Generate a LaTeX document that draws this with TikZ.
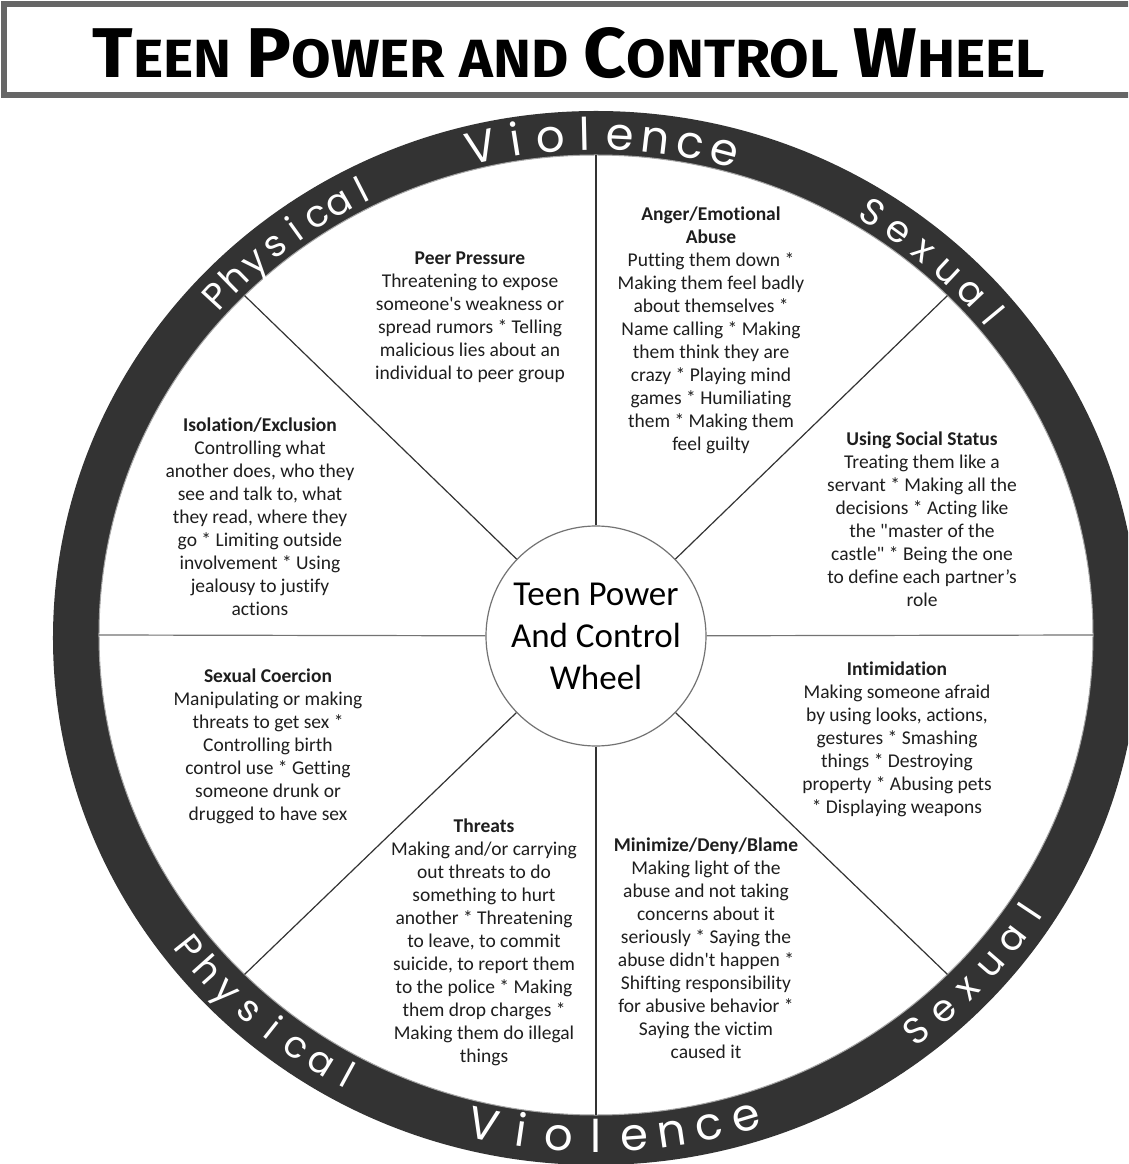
\documentclass[tikz,border=0pt]{standalone}
\usepackage{fontspec}
\newfontfamily\wheelfont{Carlito}[Ligatures={NoCommon}]
\newfontfamily\titlefont{Fira Sans}
\newfontfamily\ringfont{Poppins}
\definecolor{ringgray}{HTML}{333333}
\definecolor{inkgray}{HTML}{1E1E1E}
\definecolor{boxgray}{HTML}{666666}
\newcommand\capword[2]{{\fontsize{72}{72}\selectfont #1}{\fontsize{55}{55}\selectfont #2}}

\tikzset{
  spoke/.style={black!80, line width=1.2pt},
  hub/.style={circle, draw=black!55, line width=1.2pt, fill=white, minimum size=220pt,
    inner sep=0pt, align=center, font=\wheelfont\fontsize{35}{42}\selectfont},
  tactic/.style={align=center, text=inkgray, inner sep=0pt,
    font=\wheelfont\fontsize{19.5}{23}\selectfont},
  ringletter/.style={white, anchor=base, inner sep=0pt,
    font=\ringfont\fontsize{#1}{#1}\selectfont},
}

\begin{document}
\begin{tikzpicture}[x=1pt,y=1pt]

\useasboundingbox (-596,-529) rectangle (532,635);
\fill[white] (-596,-529) rectangle (532,635);
\clip (-596,-529) rectangle (532,635);

% Title box
\draw[boxgray, line width=6pt, fill=white] (-592,631) rectangle (560,540);
\node[anchor=base, inner sep=0pt] (title) at (-27,557)
  {\resizebox{952pt}{50pt}{\titlefont\bfseries\fontsize{60}{60}\selectfont
   \capword{T}{EEN} \capword{P}{OWER} {\fontsize{55}{55}\selectfont AND} \capword{C}{ONTROL} \capword{W}{HEEL}}};

% Ring
\fill[ringgray, even odd rule] (0,-3) ellipse [x radius=543, y radius=527]
  (0,0) ellipse [x radius=497, y radius=480];
\draw[black!35, line width=1pt] (0,0) ellipse [x radius=497, y radius=480];

% Rim points
\foreach \a in {0,45,...,315}
  \coordinate (rim\a) at ({497*cos(\a)},{480*sin(\a)});

% Hub
\node[hub] (hub) at (0,-1) {Teen Power\\And Control\\Wheel};

% Spokes
\foreach \a in {45,90,135,225,270,315}
  \draw[spoke] (hub) -- (rim\a);
\draw[spoke, black!55] (hub) -- (rim0);
\draw[spoke, black!55] (hub) -- (rim180);

% Ring words, upper half
\foreach \ch [count=\i from 0] in {V,i,o,l,e,n,c,e}{
  \pgfmathsetmacro\t{102.9-\i*3.9}
  \node[ringletter=45, rotate=\t-90] (vt\i) at ({502*cos(\t)},{485*sin(\t)}) {\ch};
}
\foreach \ch [count=\i from 0] in {P,h,y,s,i,c,a,l}{
  \pgfmathsetmacro\t{137.3-\i*2.9}
  \node[ringletter=37, rotate=\t-90] (pt\i) at ({504*cos(\t)},{487*sin(\t)}) {\ch};
}
\foreach \ch [count=\i from 0] in {S,e,x,u,a,l}{
  \pgfmathsetmacro\t{57.7-\i*3.6}
  \node[ringletter=37, rotate=\t-90] (st\i) at ({504*cos(\t)},{487*sin(\t)}) {\ch};
}

% Ring words, lower half
\foreach \ch [count=\i from 0] in {V,i,o,l,e,n,c,e}{
  \pgfmathsetmacro\t{-102.4+\i*4.15}
  \node[ringletter=45, rotate=\t+90] (vb\i) at ({537*cos(\t)},{517*sin(\t)}) {\ch};
}
\foreach \ch [count=\i from 0] in {P,h,y,s,i,c,a,l}{
  \pgfmathsetmacro\t{-141.4+\i*3.27}
  \node[ringletter=37, rotate=\t+90] (pb\i) at ({534*cos(\t)},{514*sin(\t)}) {\ch};
}
\foreach \ch [count=\i from 0] in {S,e,x,u,a,l}{
  \pgfmathsetmacro\t{-52.1+\i*3.72}
  \node[ringletter=37, rotate=\t+90] (sb\i) at ({534*cos(\t)},{514*sin(\t)}) {\ch};
}

% Tactics
\node[tactic] (peer) at (-126,317.5) {\textbf{Peer Pressure}\\Threatening to expose\\someone's weakness or\\spread rumors * Telling\\malicious lies about an\\individual to peer group};
\node[tactic] (anger) at (115,305) {\textbf{Anger/Emotional}\\\textbf{Abuse}\\Putting them down *\\Making them feel badly\\about themselves *\\Name calling * Making\\them think they are\\crazy * Playing mind\\games * Humiliating\\them * Making them\\feel guilty};
\node[tactic] (status) at (326,116) {\textbf{Using Social Status}\\Treating them like a\\servant * Making all the\\decisions * Acting like\\the "master of the\\castle" * Being the one\\to define each partner’s\\role};
\node[tactic] (intim) at (301,-104) {\textbf{Intimidation}\\Making someone afraid\\by using looks, actions,\\gestures * Smashing\\things * Destroying\\property * Abusing pets\\* Displaying weapons};
\node[tactic] (minim) at (110,-313.5) {\textbf{Minimize/Deny/Blame}\\Making light of the\\abuse and not taking\\concerns about it\\seriously * Saying the\\abuse didn't happen *\\Shifting responsibility\\for abusive behavior *\\Saying the victim\\caused it};
\node[tactic] (threat) at (-112,-307) {\textbf{Threats}\\Making and/or carrying\\out threats to do\\something to hurt\\another * Threatening\\to leave, to commit\\suicide, to report them\\to the police * Making\\them drop charges *\\Making them do illegal\\things};
\node[tactic] (coerce) at (-328,-111) {\textbf{Sexual Coercion}\\Manipulating or making\\threats to get sex *\\Controlling birth\\control use * Getting\\someone drunk or\\drugged to have sex};
\node[tactic] (isol) at (-336,118) {\textbf{Isolation/Exclusion}\\Controlling what\\another does, who they\\see and talk to, what\\they read, where they\\go * Limiting outside\\involvement * Using\\jealousy to justify\\actions};

\end{tikzpicture}
\end{document}
